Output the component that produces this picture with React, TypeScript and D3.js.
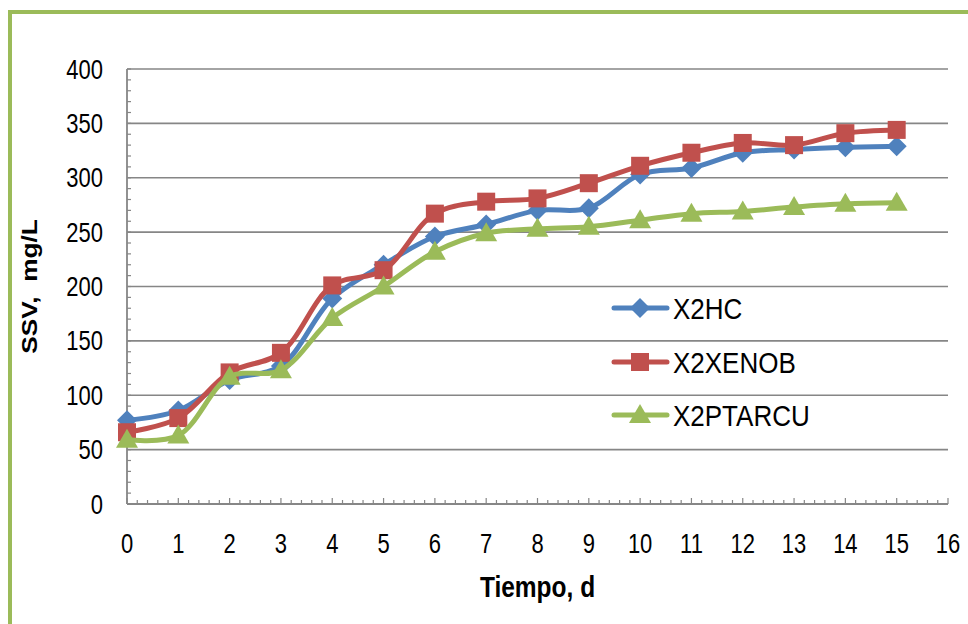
import React, { useEffect, useRef } from "react";
import * as d3 from "d3";

const days = [0, 1, 2, 3, 4, 5, 6, 7, 8, 9, 10, 11, 12, 13, 14, 15];
const x2hc = [77, 86, 114, 127, 189, 220, 246, 257, 270, 272, 303, 309, 323, 326, 328, 329];
const x2xenob = [66, 79, 121, 139, 201, 215, 267, 278, 281, 295, 311, 323, 332, 330, 341, 344];
const x2ptarcu = [59, 63, 117, 123, 171, 200, 232, 249, 253, 255, 261, 267, 269, 273, 276, 277];
const seriesNames = ["X2HC", "X2XENOB", "X2PTARCU"];
const yTicks = [0, 50, 100, 150, 200, 250, 300, 350, 400];
const xTicks = [0, 1, 2, 3, 4, 5, 6, 7, 8, 9, 10, 11, 12, 13, 14, 15, 16];
const yTitle = "SSV,  mg/L";
const xTitle = "Tiempo, d";

const W = 968;
const H = 624;
const FONT = "'Liberation Sans', Arial, sans-serif";
const SY = 1.22;

export default function App() {
  const ref = useRef<SVGSVGElement>(null);
  useEffect(() => {
    const svg = d3.select(ref.current);
    svg.selectAll("*").remove();
    const left = 127, right = 948, top = 69, bottom = 504;
    const x = d3.scaleLinear().domain([0, 16]).range([left, right]);
    const y = d3.scaleLinear().domain([0, 400]).range([bottom, top]);

    svg.append("rect").attr("x", 0).attr("y", 0).attr("width", W).attr("height", H).attr("fill", "#fff");
    svg.append("rect").attr("x", 10).attr("y", 12).attr("width", W + 40).attr("height", H + 40)
      .attr("fill", "none").attr("stroke", "#9BBB59").attr("stroke-width", 4);

    const grid = "#868686";
    svg.append("g").selectAll("line").data(yTicks.filter(v => v > 0)).join("line")
      .attr("x1", left).attr("x2", right).attr("y1", d => y(d)).attr("y2", d => y(d))
      .attr("stroke", grid).attr("stroke-width", 1.6);
    const yMinor = d3.range(0, 401, 10);
    svg.append("g").selectAll("line").data(yMinor).join("line")
      .attr("x1", left).attr("x2", left + 4).attr("y1", d => y(d)).attr("y2", d => y(d))
      .attr("stroke", grid).attr("stroke-width", 1.2);
    const xMinor = d3.range(0, 16.001, 0.2);
    svg.append("g").selectAll("line").data(xMinor).join("line")
      .attr("x1", d => x(d)).attr("x2", d => x(d)).attr("y1", bottom)
      .attr("y2", d => Math.abs(d - Math.round(d)) < 1e-6 ? bottom - 6 : bottom - 4)
      .attr("stroke", grid).attr("stroke-width", 1.2);
    svg.append("line").attr("x1", left).attr("x2", left).attr("y1", top).attr("y2", bottom)
      .attr("stroke", grid).attr("stroke-width", 1.8);
    svg.append("line").attr("x1", left).attr("x2", right).attr("y1", bottom).attr("y2", bottom)
      .attr("stroke", grid).attr("stroke-width", 1.8);

    svg.append("g").selectAll("text").data(yTicks).join("text")
      .attr("transform", d => `translate(103,${y(d) + 9.5}) scale(1,${SY})`).attr("text-anchor", "end")
      .attr("font-family", FONT).attr("font-size", 22).attr("fill", "#000").text(d => d);
    svg.append("g").selectAll("text").data(xTicks).join("text")
      .attr("transform", d => `translate(${x(d)},553) scale(1,${SY})`).attr("text-anchor", "middle")
      .attr("font-family", FONT).attr("font-size", 22).attr("fill", "#000").text(d => d);

    svg.append("text").attr("transform", `translate(37,${(top + bottom) / 2}) scale(1,${SY}) rotate(-90)`)
      .attr("text-anchor", "middle").attr("font-family", FONT).attr("font-weight", "bold")
      .attr("font-size", 21.5).attr("fill", "#000").style("white-space", "pre").text(yTitle);
    svg.append("text").attr("transform", `translate(${(left + right) / 2},597) scale(1,${SY})`)
      .attr("text-anchor", "middle").attr("font-family", FONT).attr("font-weight", "bold")
      .attr("font-size", 24.5).attr("fill", "#000").text(xTitle);

    const colors = ["#4F81BD", "#C0504D", "#9BBB59"];
    const all = [x2hc, x2xenob, x2ptarcu];
    const line = d3.line<number>().x((_, i) => x(days[i])).y(d => y(d)).curve(d3.curveCatmullRom.alpha(0.5));

    const marker = (g: any, k: number, cx: number, cy: number) => {
      if (k === 0) {
        g.append("path").attr("d", `M${cx},${cy - 10}L${cx + 10},${cy}L${cx},${cy + 10}L${cx - 10},${cy}Z`).attr("fill", colors[0]);
      } else if (k === 1) {
        g.append("rect").attr("x", cx - 9).attr("y", cy - 9).attr("width", 18).attr("height", 18).attr("fill", colors[1]);
      } else {
        g.append("path").attr("d", `M${cx},${cy - 11}L${cx + 11},${cy + 8}L${cx - 11},${cy + 8}Z`).attr("fill", colors[2]);
      }
    };

    all.forEach((vals, k) => {
      const g = svg.append("g");
      g.append("path").attr("d", line(vals)).attr("fill", "none").attr("stroke", colors[k])
        .attr("stroke-width", 5).attr("stroke-linejoin", "round").attr("stroke-linecap", "round");
      vals.forEach((v, i) => marker(g, k, x(days[i]), y(v)));
    });

    const legY = [308, 362, 415];
    seriesNames.forEach((name, k) => {
      const g = svg.append("g");
      g.append("line").attr("x1", 614).attr("x2", 667).attr("y1", legY[k]).attr("y2", legY[k])
        .attr("stroke", colors[k]).attr("stroke-width", 5).attr("stroke-linecap", "round");
      marker(g, k, 640, legY[k]);
      g.append("text").attr("transform", `translate(673,${legY[k] + 11}) scale(1,1.16)`)
        .attr("font-family", FONT).attr("font-size", 26).attr("fill", "#000").text(name);
    });
  }, []);
  return <svg ref={ref} width={W} height={H} style={{ position: "absolute", left: 0, top: 0 }} />;
}
